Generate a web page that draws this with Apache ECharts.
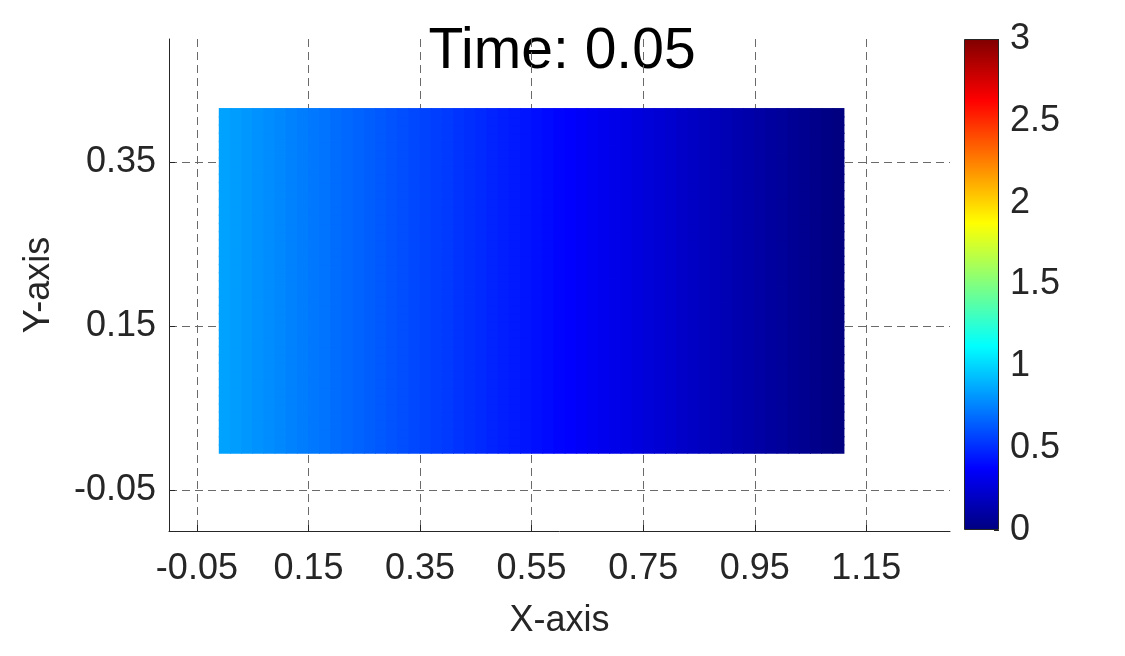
<!DOCTYPE html>
<html>
<head>
<meta charset="utf-8">
<script src="https://cdn.jsdelivr.net/npm/echarts@6/dist/echarts.min.js"></script>
<style>
  html, body { margin: 0; padding: 0; background: #fff; }
  #chart { width: 1125px; height: 656px; }
</style>
</head>
<body>
<div id="chart"></div>
<script>
    const colX = [0, 0.02, 0.04, 0.06, 0.08, 0.10, 0.12, 0.14, 0.16, 0.18,
        0.20, 0.22, 0.24, 0.26, 0.28, 0.30, 0.32, 0.34, 0.36, 0.38,
        0.40, 0.42, 0.44, 0.46, 0.48, 0.50, 0.52, 0.54, 0.56, 0.58,
        0.60, 0.62, 0.64, 0.66, 0.68, 0.70, 0.72, 0.74, 0.76, 0.78,
        0.80, 0.82, 0.84, 0.86, 0.88, 0.90, 0.92, 0.94, 0.96, 0.98,
        1.00, 1.02, 1.04, 1.06, 1.08, 1.10];
    const colValue = [0.850, 0.835, 0.819, 0.804, 0.788, 0.773, 0.757, 0.742, 0.726, 0.711,
        0.695, 0.680, 0.665, 0.649, 0.634, 0.618, 0.603, 0.587, 0.572, 0.556,
        0.541, 0.525, 0.510, 0.495, 0.479, 0.464, 0.448, 0.433, 0.417, 0.402,
        0.386, 0.371, 0.355, 0.340, 0.325, 0.309, 0.294, 0.278, 0.263, 0.247,
        0.232, 0.216, 0.201, 0.185, 0.170, 0.155, 0.139, 0.124, 0.108, 0.093,
        0.077, 0.062, 0.046, 0.031, 0.015, 0.000];
    // point rows (y)
    const rowY = [0, 0.01, 0.02, 0.03, 0.04, 0.05, 0.06, 0.07, 0.08, 0.09,
        0.10, 0.11, 0.12, 0.13, 0.14, 0.15, 0.16, 0.17, 0.18, 0.19,
        0.20, 0.21, 0.22, 0.23, 0.24, 0.25, 0.26, 0.27, 0.28, 0.29,
        0.30, 0.31, 0.32, 0.33, 0.34, 0.35, 0.36, 0.37, 0.38, 0.39,
        0.40, 0.41];

    const xTicks = [-0.05, 0.15, 0.35, 0.55, 0.75, 0.95, 1.15];
    const yTicks = [-0.05, 0.15, 0.35];
    const colorbarMax = 3;
    const jet = ['#000080', '#0000ff', '#0080ff', '#00ffff', '#80ff80',
        '#ffff00', '#ff8000', '#ff0000', '#800000'];

    const points = [];
    rowY.forEach(y => {
        colX.forEach((x, i) => {
            points.push([x, y, colValue[i]]);
        });
    });

    const font = 'Liberation Sans';
    const ink = '#262626';
    const labelStyle = {fontFamily: font, fontSize: 36, color: ink};

    const chart = echarts.init(document.getElementById('chart'));

    const option = {
        animation: false,
        backgroundColor: '#fff',
        graphic: [{
            type: 'text',
            x: 562,
            y: 52,
            style: {
                text: 'Time: 0.05',
                font: '57px "Liberation Sans"',
                fill: '#000',
                textAlign: 'center',
                textVerticalAlign: 'middle'
            }
        }],
        grid: [
            {left: 169, top: 39, width: 781, height: 492},
            {left: 964, top: 39, width: 35, height: 491}
        ],
        xAxis: [{
            type: 'value',
            gridIndex: 0,
            min: -0.1,
            max: 1.3,
            name: 'X-axis',
            nameLocation: 'middle',
            nameGap: 72,
            nameTextStyle: labelStyle,
            axisLine: {show: true, onZero: false, lineStyle: {color: ink, width: 1}},
            axisTick: {show: true, inside: true, length: 6, customValues: xTicks,
                lineStyle: {color: ink}},
            axisLabel: Object.assign({margin: 20, customValues: xTicks,
                formatter: v => v.toFixed(2)}, labelStyle),
            splitLine: {show: true, lineStyle: {color: '#6a6a6a', type: [8, 5], width: 1}}
        }, {
            type: 'category',
            gridIndex: 1,
            data: [''],
            show: false
        }],
        yAxis: [{
            type: 'value',
            gridIndex: 0,
            min: -0.1,
            max: 0.5,
            name: 'Y-axis',
            nameLocation: 'middle',
            nameGap: 112,
            nameTextStyle: labelStyle,
            axisLine: {show: true, onZero: false, lineStyle: {color: ink, width: 1}},
            axisTick: {show: true, inside: true, length: 6, customValues: yTicks,
                lineStyle: {color: ink}},
            axisLabel: Object.assign({margin: 13, customValues: yTicks,
                formatter: v => v.toFixed(2)}, labelStyle),
            splitLine: {show: true, lineStyle: {color: '#6a6a6a', type: [8, 5], width: 1}}
        }, {
            type: 'value',
            gridIndex: 1,
            position: 'right',
            min: 0,
            max: colorbarMax,
            interval: 0.5,
            axisLine: {show: false},
            axisTick: {show: true, inside: true, length: 5, lineStyle: {color: ink}},
            axisLabel: Object.assign({margin: 11}, labelStyle),
            splitLine: {show: false}
        }],
        visualMap: {
            type: 'continuous',
            show: false,
            min: 0,
            max: colorbarMax,
            dimension: 2,
            seriesIndex: 0,
            inRange: {color: jet}
        },
        series: [{
            type: 'scatter',
            xAxisIndex: 0,
            yAxisIndex: 0,
            symbol: 'rect',
            symbolSize: [12, 9.5],
            itemStyle: {opacity: 1},
            data: points,
            silent: true
        }, {
            type: 'bar',
            xAxisIndex: 1,
            yAxisIndex: 1,
            barWidth: '100%',
            data: [colorbarMax],
            silent: true,
            z: 1,
            itemStyle: {
                borderColor: ink,
                borderWidth: 1,
                color: new echarts.graphic.LinearGradient(0, 1, 0, 0,
                    jet.map((c, i) => ({offset: i / (jet.length - 1), color: c})))
            }
        }]
    };
    chart.setOption(option);
</script>
</body>
</html>
